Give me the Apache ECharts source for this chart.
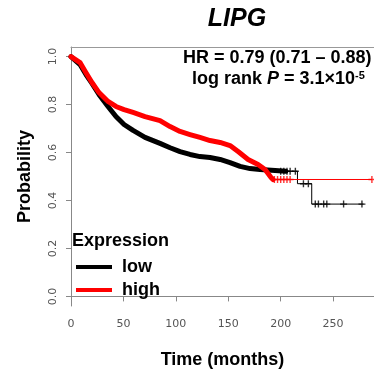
<!DOCTYPE html>
<html lang="en" style="height: 100%;width: 100%">
<head>
    <meta charset="utf-8">
</head>
<body style="height: 100%;width: 100%; margin: 0">
<div id="container" style="height: 374px;width: 374px;"></div>
<script type="text/javascript" src="https://cdn.jsdelivr.net/npm/echarts@6/dist/echarts.min.js"></script>
<script type="text/javascript">
    // KM curves: [months, probability]
    var lowBand = [[0, 1.0], [8.6, 0.967], [14.3, 0.925], [20, 0.888], [26.7, 0.842], [35.3, 0.792],
        [42.9, 0.75], [50.6, 0.717], [59.2, 0.692], [70.6, 0.663], [84.9, 0.638], [94.5, 0.62],
        [104, 0.604], [113.5, 0.592], [123, 0.583], [132.6, 0.579], [142.2, 0.571], [151.7, 0.558],
        [161.3, 0.542], [170.8, 0.533], [180.3, 0.529], [194.7, 0.525], [205, 0.522]];
    var lowTail = [[205, 0.522], [216, 0.47], [229.6, 0.385], [279, 0.385]];
    var lowCensor = [[200, 0.522], [203, 0.522], [206, 0.522], [209, 0.522], [214, 0.522],
        [221.7, 0.47], [226.4, 0.47], [233, 0.385], [236, 0.385], [241, 0.385], [244, 0.385],
        [260, 0.385], [277.5, 0.385]];

    var highBand = [[0, 1.0], [8.6, 0.975], [14.3, 0.933], [20, 0.892], [26.7, 0.85], [35.3, 0.813],
        [42.9, 0.792], [50.6, 0.779], [59.2, 0.767], [70.6, 0.75], [84.9, 0.733], [94.5, 0.708],
        [104, 0.688], [113.5, 0.675], [123, 0.663], [132.6, 0.65], [142.2, 0.642], [151.7, 0.629],
        [159.4, 0.604], [168.9, 0.571], [178.4, 0.55], [185.1, 0.529], [190.8, 0.496], [192.7, 0.4875]];
    var highTail = [[192.7, 0.4875], [287, 0.4875]];
    var highCensor = [[194, 0.4875], [197, 0.4875], [200, 0.4875], [203, 0.4875], [206, 0.4875],
        [209, 0.4875], [287, 0.4875]];

    var xTicks = [0, 50, 100, 150, 200, 250];
    var yTicks = [0, 0.2, 0.4, 0.6, 0.8, 1.0];

    var plus = 'path://M4,0h2v4h4v2h-4v4h-2v-4h-4v-2h4z';
    var bold = 'Liberation Sans';

    var myChart = echarts.init(document.getElementById('container'), null, {renderer: 'canvas'});

    function band(name, color, data) {
        return {name: name, type: 'line', data: data, symbol: 'none', animation: false,
            lineStyle: {color: color, width: 5, join: 'round', cap: 'round'}, itemStyle: {color: color}, z: 3};
    }
    function tail(name, color, data) {
        return {name: name, type: 'line', data: data, step: 'end', symbol: 'none', animation: false,
            lineStyle: {color: color, width: 1}, itemStyle: {color: color}, z: 2};
    }
    function marks(name, color, data) {
        return {name: name, type: 'scatter', data: data, symbol: plus, symbolSize: 7, animation: false,
            itemStyle: {color: color}, z: 4};
    }

    var option = {
        title: [
            {text: 'LIPG', left: 237, top: 7, textAlign: 'center', padding: 0,
                textStyle: {fontFamily: bold, fontSize: 25, fontWeight: 'bold', fontStyle: 'italic', color: '#000'}},
            {text: 'Expression', left: 72, top: 232, padding: 0,
                textStyle: {fontFamily: bold, fontSize: 18, fontWeight: 'bold', color: '#000'}}
        ],
        legend: {
            orient: 'vertical', left: 76, top: 258, itemWidth: 36, itemHeight: 4, itemGap: 5, padding: 0,
            icon: 'rect', data: ['low', 'high'],
            textStyle: {fontFamily: bold, fontSize: 18, fontWeight: 'bold', color: '#000', padding: [0, 0, 0, 5]}
        },
        grid: {left: 71, top: 47, right: 0, bottom: 67},
        xAxis: [{
            type: 'value', min: 0, max: 289, position: 'bottom',
            name: 'Time (months)', nameLocation: 'middle', nameGap: 45,
            nameTextStyle: {fontFamily: bold, fontSize: 18, fontWeight: 'bold', color: '#000'},
            axisLine: {show: true, lineStyle: {color: '#888'}},
            axisTick: {show: true, length: 5, customValues: xTicks, lineStyle: {color: '#888'}},
            axisLabel: {customValues: xTicks, margin: 13, fontFamily: 'DejaVu Sans', fontSize: 11, color: '#555'},
            splitLine: {show: false}
        }, {
            type: 'value', min: 0, max: 289, position: 'top',
            axisLine: {show: true, lineStyle: {color: '#999'}},
            axisTick: {show: false}, axisLabel: {show: false}, splitLine: {show: false}
        }],
        yAxis: {
            type: 'value', min: -0.04, max: 1.04,
            name: 'Probability', nameLocation: 'middle', nameGap: 37,
            nameTextStyle: {fontFamily: bold, fontSize: 18, fontWeight: 'bold', color: '#000'},
            axisLine: {show: true, lineStyle: {color: '#888'}},
            axisTick: {show: true, length: 5, customValues: yTicks, lineStyle: {color: '#888'}},
            axisLabel: {customValues: yTicks, rotate: 90, margin: 12, fontFamily: 'DejaVu Sans', fontSize: 11,
                color: '#555', formatter: function (v) { return v.toFixed(1); }},
            splitLine: {show: false}
        },
        graphic: [
            {type: 'text', left: 183, top: 49, z: 10,
                style: {text: 'HR = 0.79 (0.71 – 0.88)', font: 'bold 18px "Liberation Sans"', fill: '#000'}},
            {type: 'text', left: 192, top: 70, z: 10,
                style: {text: 'log rank {i|P} = 3.1×10{s|-5}', font: 'bold 18px "Liberation Sans"', fill: '#000',
                    rich: {
                        i: {fontFamily: bold, fontSize: 18, fontWeight: 'bold', fontStyle: 'italic'},
                        s: {fontFamily: bold, fontSize: 11, fontWeight: 'bold', verticalAlign: 'top'}
                    }}}
        ],
        series: [
            tail('low', '#000000', lowTail),
            tail('high', '#ff0000', highTail),
            band('low', '#000000', lowBand),
            band('high', '#ff0000', highBand),
            marks('low', '#000000', lowCensor),
            marks('high', '#ff0000', highCensor)
        ]
    };
    myChart.setOption(option);
</script>
</body>
</html>
